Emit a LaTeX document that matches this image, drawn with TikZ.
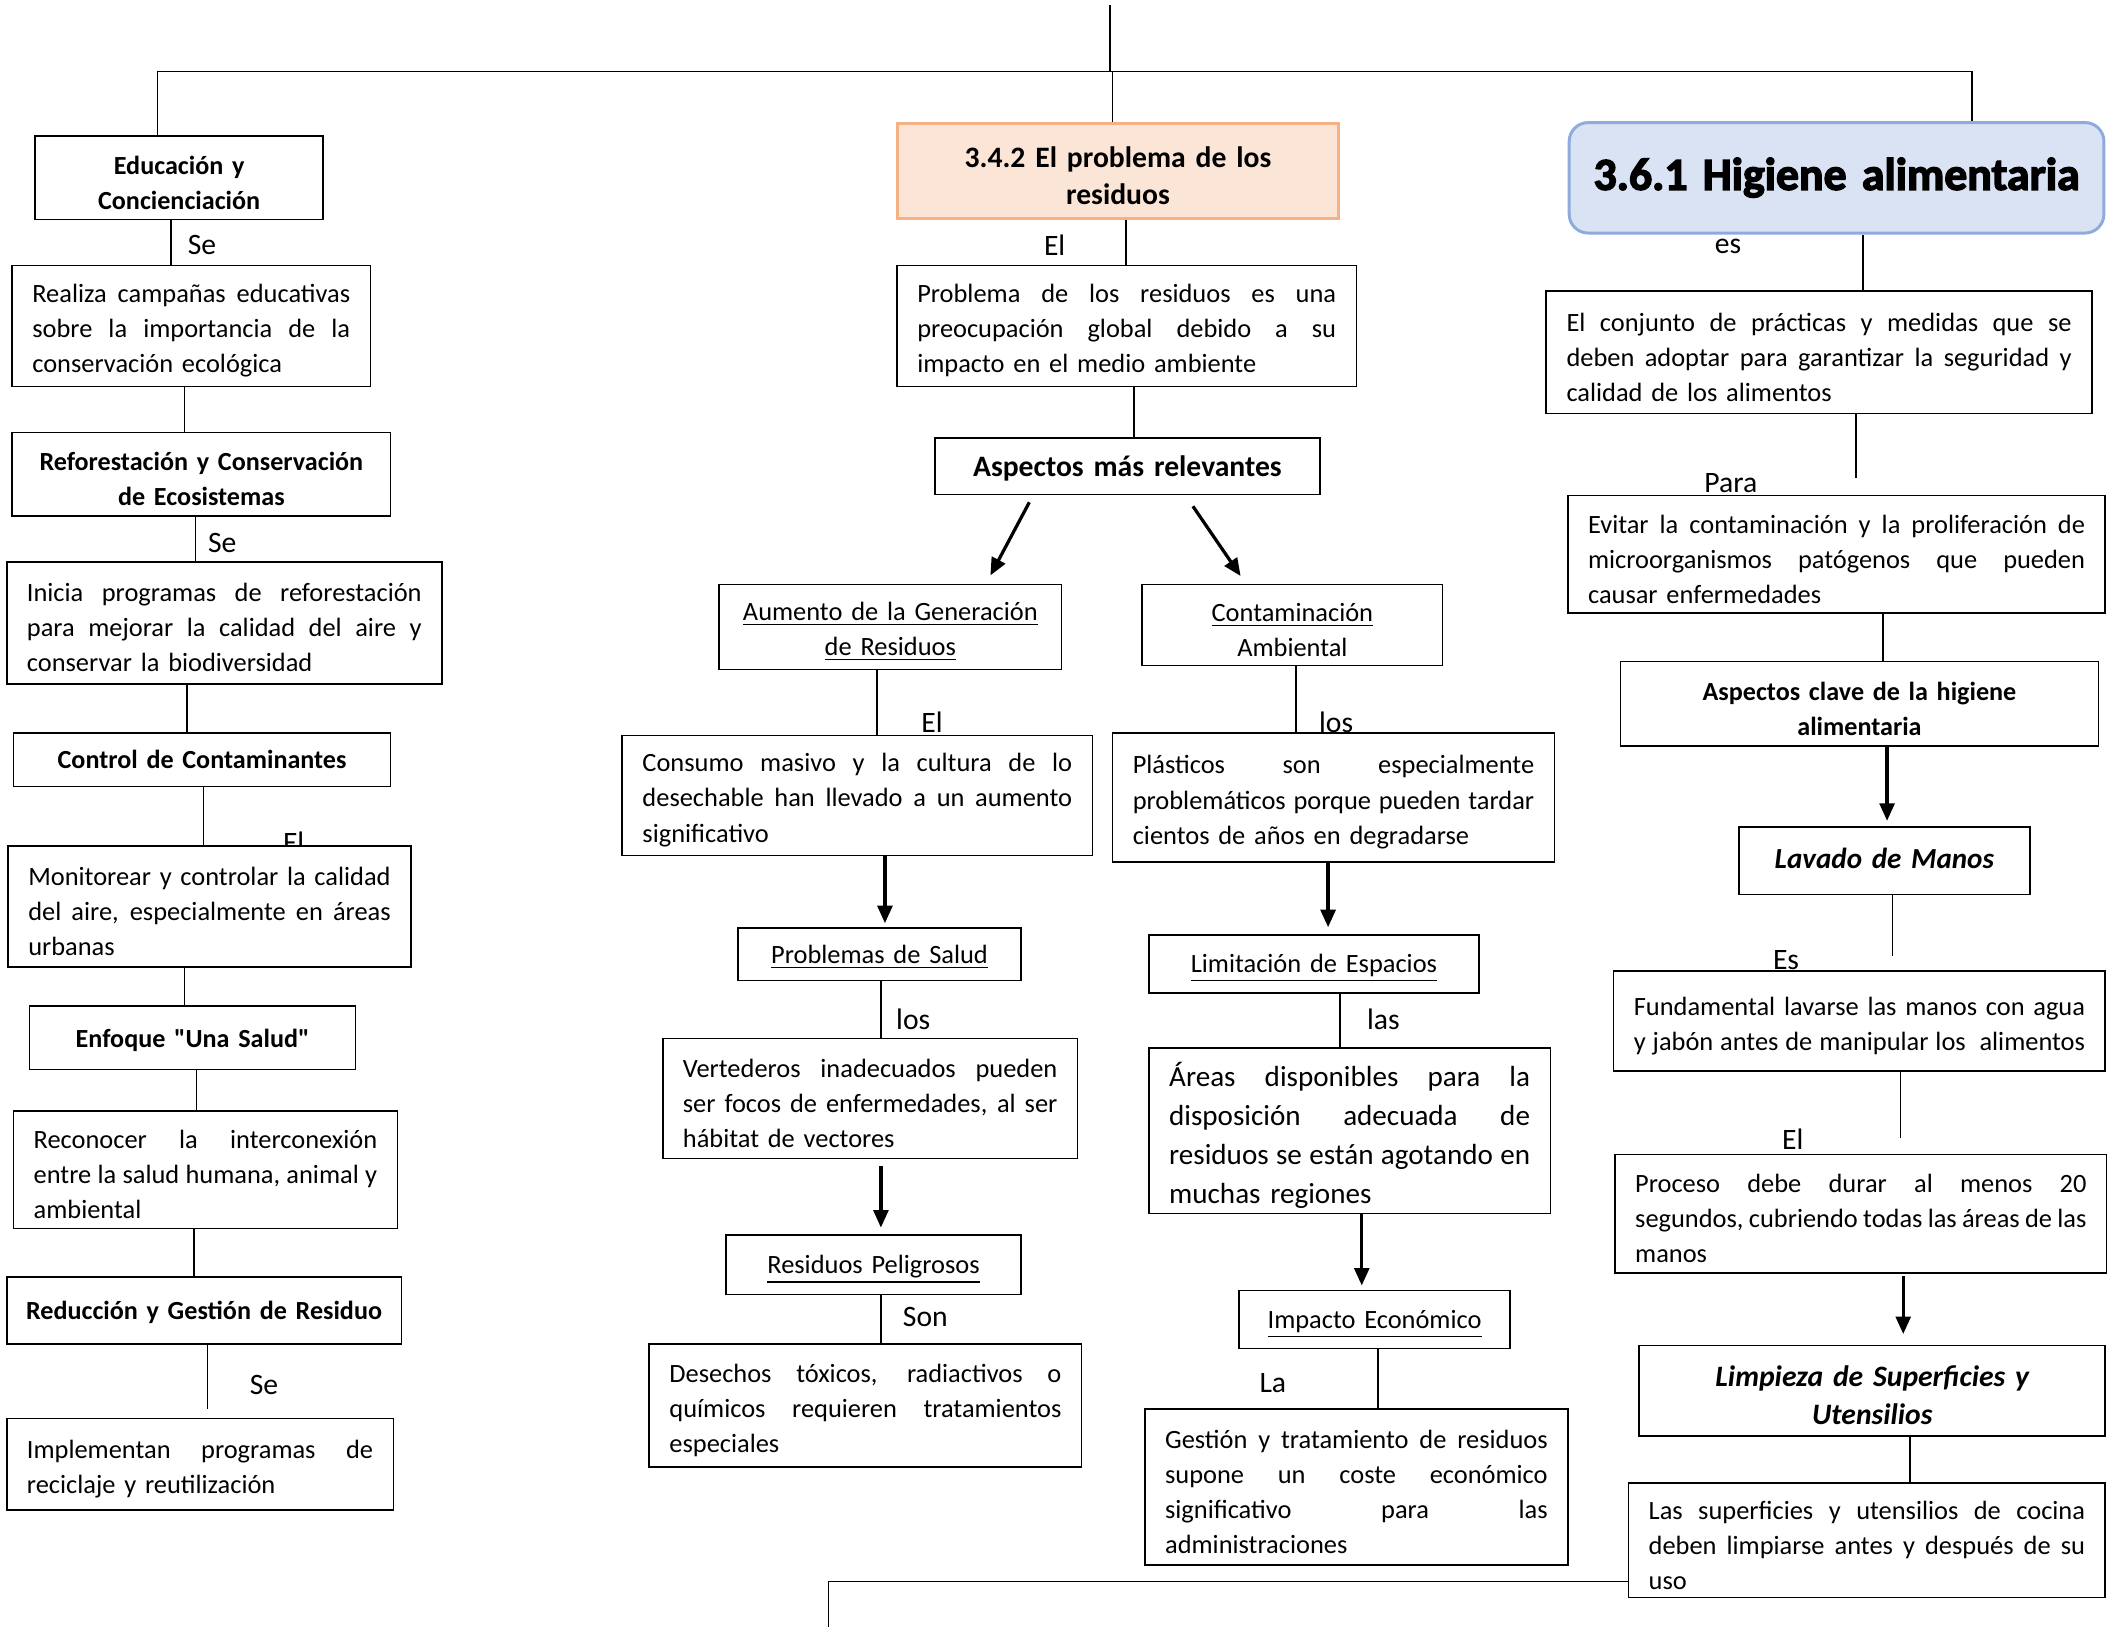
\documentclass[tikz,border=0pt]{standalone}
\usepackage{fontspec}
\setmainfont{Carlito}
\newfontfamily\carq{Carlito}
\newfontfamily\higfont{Carlito}[BoldFeatures={FakeBold=3}]
\usetikzlibrary{arrows.meta}
\definecolor{peachfill}{HTML}{FBE5D6}
\definecolor{peachdraw}{HTML}{F4B183}
\definecolor{bluefill}{HTML}{DAE3F3}
\definecolor{bluedraw}{HTML}{8FAADC}
\newcommand\J[1]{\makebox[\hsize][s]{\spaceskip=0pt\xspaceskip=0pt #1}\\}
\newcommand\JL[1]{\makebox[\hsize][s]{\spaceskip=0pt\xspaceskip=0pt #1}}
\newcommand\myv{3.5pt}
\newcommand\mybox[8][7.5]{%
 \pgfmathsetmacro\mybw{(#5-#3)*0.5}%
 \pgfmathsetmacro\mybh{(#6-#4)*0.5}%
 \pgfmathsetmacro\mytw{(#5-#3)*0.5-2*#1}%
 \node[#7, inner xsep=#1pt, minimum width=\mybw pt, minimum height=\mybh pt, text width=\mytw pt] (#2) at ({(#3+#5)/2},{(#4+#6)/2}) {#8\par\kern-\myv};}
\tikzset{
 box/.style={draw=black, line width=0.6pt, fill=white, inner ysep=0pt, font=\fontsize{9.8}{13}\selectfont, align=left},
 tbox/.style={box, align=center, font=\fontsize{9.7}{13}\selectfont\bfseries},
 ubox/.style={box, align=center},
 lbl/.style={font=\fontsize{11}{13}\selectfont, inner sep=0pt},
 conn/.style={line width=0.6pt},
 arr/.style={line width=1.2pt, -{Triangle[length=6.5pt,width=5.5pt]}},
}
\begin{document}
\begin{tikzpicture}[x=0.5pt,y=-0.5pt]
\fill[white] (0,0) rectangle (1568,1212);
\useasboundingbox (0,0) rectangle (1568,1212);
% labels
\node[lbl] (l1) at (150,182) {Se};
\node[lbl] (l2) at (165,403) {Se};
\node[lbl] (l3) at (218,625) {El};
\node[lbl] (l4) at (196,1028) {Se};
\node[lbl] (l5) at (783,182) {El};
\node[lbl] (l6) at (692,536) {El};
\node[lbl] (l7) at (992,536) {los};
\node[lbl] (l8) at (678,757) {los};
\node[lbl] (l9) at (1027,757) {las};
\node[lbl] (l10) at (687,978) {Son};
\node[lbl] (l11) at (945,1027) {La};
\node[lbl] (l12) at (1283,183) {es};
\node[lbl] (l13) at (1285,359) {Para};
\node[lbl] (l14) at (1326,713) {Es};
\node[lbl] (l15) at (1331,846) {El};
% left column
\mybox[2]{edu}{26}{101}{240}{163}{tbox}{Educación y\\Concienciación}
\mybox{rea}{9}{197}{275}{287}{box}{\J{Realiza campañas educativas}\J{sobre la importancia de la}conservación ecológica}
\mybox[2]{refo}{9}{321}{290}{383}{tbox}{Reforestación y Conservación\\de Ecosistemas}
\mybox{ini}{5}{417}{328}{508}{box}{\J{Inicia programas de reforestación}\J{para mejorar la calidad del aire y}conservar la biodiversidad}
\mybox[2]{ctrl}{10}{544}{290}{584}{tbox}{Control de Contaminantes}
\mybox{mon}{6}{628}{305}{718}{box}{\J{Monitorear y controlar la calidad}\J{del aire, especialmente en áreas}urbanas}
\mybox[2]{enf}{22}{747}{264}{794}{tbox}{{\carq\bfseries Enfoque "Una Salud"}}
\mybox{rec}{10}{825}{295}{912}{box}{\J{Reconocer la interconexión}\J{entre la salud humana, animal y}ambiental}
\mybox[2]{red}{5}{948}{298}{998}{tbox}{Reducción y Gestión de Residuo}
\mybox{impl}{5}{1053}{292}{1121}{box}{\J{Implementan programas de}reciclaje y reutilización}
% middle column
\mybox[2]{prob}{666}{92}{994}{162}{tbox,fill=peachfill,draw=peachdraw,line width=1.1pt,font=\fontsize{11}{14}\selectfont\bfseries}{3.4.2 El problema de los\\residuos}
\mybox{pro}{666}{197}{1007}{287}{box}{\J{Problema de los residuos es una}\J{preocupación global debido a su}impacto en el medio ambiente}
\mybox[2]{asp}{694}{325}{980}{367}{tbox,font=\fontsize{11}{14}\selectfont\bfseries}{Aspectos más relevantes}
\mybox[2]{aum}{534}{434}{788}{497}{ubox}{\underline{Aumento de la Generación}\\\underline{de Residuos}}
\mybox[2]{cont}{848}{434}{1071}{494}{ubox}{\underline{Contaminación}\\Ambiental}
\mybox{cons}{462}{546}{811}{635}{box}{\J{Consumo masivo y la cultura de lo}\J{desechable han llevado a un aumento}significativo}
\mybox{plas}{826}{544}{1154}{640}{box}{\J{Plásticos son especialmente}\J{problemáticos porque pueden tardar}cientos de años en degradarse}
\mybox[2]{sal}{548}{689}{758}{728}{ubox}{\underline{Problemas de Salud}}
\mybox[2]{lim}{853}{694}{1098}{737}{ubox}{\underline{Limitación de Espacios}}
\mybox{ver}{492}{771}{800}{860}{box}{\J{Vertederos inadecuados pueden}\J{ser focos de enfermedades, al ser}hábitat de vectores}
\mybox{are}{853}{778}{1151}{901}{box,font=\fontsize{10.8}{14.4}\selectfont}{\J{Áreas disponibles para la}\J{disposición adecuada de}\J{residuos se están agotando en}muchas regiones}
\mybox[2]{pel}{539}{917}{758}{961}{ubox}{\underline{Residuos Peligrosos}}
\mybox[2]{eco}{920}{958}{1121}{1001}{ubox}{\underline{Impacto Económico}}
\mybox{des}{482}{998}{803}{1089}{box}{\J{Desechos tóxicos, radiactivos o}\J{químicos requieren tratamientos}especiales}
\mybox{ges}{850}{1046}{1164}{1162}{box}{\J{Gestión y tratamiento de residuos}\J{supone un coste económico}\J{significativo para las}administraciones}
% right column
\mybox[2]{hig}{1165}{91}{1562}{173}{tbox,fill=bluefill,draw=bluedraw,line width=1.1pt,rounded corners=7pt,font=\fontsize{17}{20}\selectfont\higfont\bfseries}{\raisebox{3pt}{3.6.1 Higiene alimentaria}}
\mybox{conj}{1148}{216}{1553}{307}{box}{\J{El conjunto de prácticas y medidas que se}\J{deben adoptar para garantizar la seguridad y}calidad de los alimentos}
\mybox{evi}{1164}{368}{1563}{455}{box}{\J{Evitar la contaminación y la proliferación de}\J{microorganismos patógenos que pueden}causar enfermedades}
\mybox[2]{ask}{1203}{491}{1558}{554}{tbox}{Aspectos clave de la higiene\\alimentaria}
\mybox[2]{lav}{1291}{614}{1507}{664}{tbox,font=\fontsize{10.8}{14}\selectfont\bfseries\itshape}{\raisebox{2pt}{Lavado de Manos}}
\mybox{fun}{1198}{721}{1563}{795}{box}{\J{Fundamental lavarse las manos con agua}\JL{y jabón antes de manipular los\ \ alimentos}}
\mybox{proc}{1199}{857}{1564}{945}{box}{\J{Proceso debe durar al menos 20}\J{segundos, cubriendo todas las áreas de las}manos}
\mybox[2]{limp}{1217}{999}{1563}{1066}{tbox,font=\fontsize{11}{14}\selectfont\bfseries\itshape}{Limpieza de Superficies y\\Utensilios}
\mybox{sup}{1209}{1101}{1563}{1186}{box}{\J{Las superficies y utensilios de cocina}\J{deben limpiarse antes y después de su}uso}
% top tree
\coordinate (top) at (824,4);
\draw[conn] (top) -- (824,53);
\draw[conn] (edu.north -| 117,0) -- (117,53) -- (1464,53) -- (hig.north -| 1464,0);
\draw[conn] (826,53) -- (prob.north -| 826,0);
% left connectors
\draw[conn] (edu.south -| 127,0) -- (rea.north -| 127,0);
\draw[conn] (rea.south -| 137,0) -- (refo.north -| 137,0);
\draw[conn] (refo.south -| 145,0) -- (ini.north -| 145,0);
\draw[conn] (ini.south -| 139,0) -- (ctrl.north -| 139,0);
\draw[conn] (ctrl.south -| 151,0) -- (mon.north -| 151,0);
\draw[conn] (mon.south -| 137,0) -- (enf.north -| 137,0);
\draw[conn] (enf.south -| 146,0) -- (rec.north -| 146,0);
\draw[conn] (rec.south -| 144,0) -- (red.north -| 144,0);
\coordinate (redend) at (154,1046);
\draw[conn] (red.south -| redend) -- (redend);
% middle connectors
\draw[conn] (prob.south -| 836,0) -- (pro.north -| 836,0);
\draw[conn] (pro.south -| 842,0) -- (asp.north -| 842,0);
\draw[arr, shorten <=3pt, shorten >=3.5pt] (asp.south -| 767,0) -- (aum.north -| 732,0);
\draw[arr, shorten <=5pt, shorten >=3.5pt] (asp.south -| 880,0) -- (cont.north -| 925,0);
\draw[conn] (aum.south -| 651,0) -- (cons.north -| 651,0);
\draw[conn] (cont.south -| 962,0) -- (plas.north -| 962,0);
\draw[arr, shorten >=1.5pt] (cons.south -| 657,0) -- (sal.north -| 657,0);
\draw[arr, shorten >=2.5pt] (plas.south -| 986,0) -- (lim.north -| 986,0);
\draw[conn] (sal.south -| 654,0) -- (ver.north -| 654,0);
\draw[conn] (lim.south -| 995,0) -- (are.north -| 995,0);
\draw[arr, shorten <=2.5pt, shorten >=2.5pt] (ver.south -| 654,0) -- (pel.north -| 654,0);
\draw[arr, shorten >=1.5pt] (are.south -| 1011,0) -- (eco.north -| 1011,0);
\draw[conn] (pel.south -| 654,0) -- (des.north -| 654,0);
\draw[conn] (eco.south -| 1023,0) -- (ges.north -| 1023,0);
% right connectors
\draw[conn] (hig.south -| 1383,0) -- (conj.north -| 1383,0);
\coordinate (conjend) at (1378,355);
\draw[conn] (conj.south -| conjend) -- (conjend);
\draw[conn] (evi.south -| 1398,0) -- (ask.north -| 1398,0);
\draw[arr, shorten >=2pt] (ask.south -| 1401,0) -- (lav.north -| 1401,0);
\coordinate (lavend) at (1405,710);
\draw[conn] (lav.south -| lavend) -- (lavend);
\coordinate (funend) at (1411,845);
\draw[conn] (fun.south -| funend) -- (funend);
\draw[arr, shorten <=1pt, shorten >=4pt] (proc.south -| 1413,0) -- (limp.north -| 1413,0);
\draw[conn] (limp.south -| 1418,0) -- (sup.north -| 1418,0);
% bottom line
\coordinate (botend) at (615,1208);
\draw[conn] (sup.west |- 0,1174) -- (615,1174) -- (botend);
\end{tikzpicture}
\end{document}
